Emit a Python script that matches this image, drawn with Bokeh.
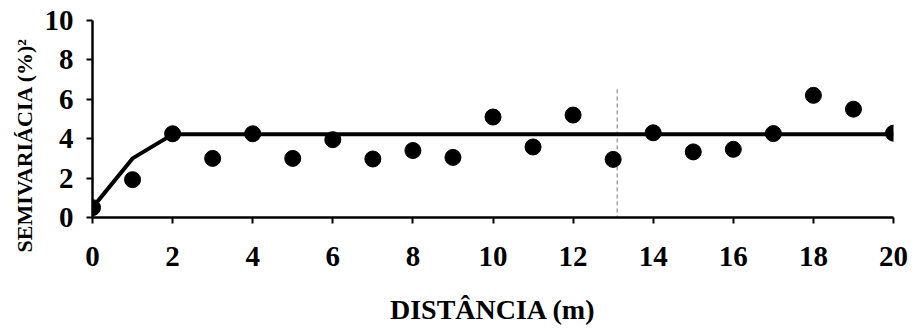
from bokeh.plotting import figure
from bokeh.models import FixedTicker, ColumnDataSource, Title
from bokeh.embed import file_html
from bokeh.resources import INLINE

# data
dist = [0, 1, 2, 3, 4, 5, 6, 7, 8, 9, 10, 11, 12, 13, 14, 15, 16, 17, 18, 19, 20]
semivar = [0.5, 1.92, 4.25, 3.0, 4.25, 3.0, 3.95, 2.97, 3.4, 3.05, 5.1, 3.58,
           5.2, 2.95, 4.3, 3.33, 3.46, 4.26, 6.2, 5.5, 4.28]
model_x = [0, 1, 2, 20]
model_y = [0.5, 3.0, 4.22, 4.22]
x_ticks = [0, 2, 4, 6, 8, 10, 12, 14, 16, 18, 20]
y_ticks = [0, 2, 4, 6, 8, 10]
artifact_x = [13.1, 13.1]
artifact_y = [6.5, 0]

FONT = "Liberation Serif"

p = figure(frame_width=801, frame_height=197, x_range=(0, 20), y_range=(0, 10),
           output_backend="svg", toolbar_location=None,
           min_border_left=92, min_border_right=23, min_border_top=20, min_border_bottom=112)
p.outline_line_color = None
p.xgrid.visible = False
p.ygrid.visible = False
p.background_fill_color = "white"
p.border_fill_color = "white"

for ax in (p.xaxis[0], p.yaxis[0]):
    ax.axis_line_width = 2.5
    ax.axis_line_color = "black"
    ax.major_tick_line_width = 2
    ax.major_tick_line_color = "black"
    ax.major_tick_out = 6
    ax.major_tick_in = 0
    ax.minor_tick_line_color = None
    ax.major_label_text_font = FONT
    ax.major_label_text_font_style = "bold"
    ax.major_label_text_font_size = "29px"
    ax.major_label_text_color = "black"

p.xaxis.ticker = FixedTicker(ticks=x_ticks)
p.yaxis.ticker = FixedTicker(ticks=y_ticks)
p.xaxis.major_label_standoff = 23
p.yaxis.major_label_standoff = 13

p.xaxis.axis_label = "DISTÂNCIA (m)"
p.xaxis.axis_label_text_font = FONT
p.xaxis.axis_label_text_font_style = "bold"
p.xaxis.axis_label_text_font_size = "28px"
p.xaxis.axis_label_text_color = "black"
p.xaxis.axis_label_standoff = 25

# y title as a side-panel title, shifted down like in the reference
ytitle = Title(text="SEMIVARIÁCIA (%)²", align="left", offset=-35,
               text_font=FONT, text_font_style="bold", text_font_size="22px",
               text_color="black", standoff=10)
p.add_layout(ytitle, "left")

# faint scan artifact (dashed vertical line)
p.line(artifact_x, artifact_y, line_color="#777777", line_width=1, line_dash="4 3")

src = ColumnDataSource(dict(x=dist, y=semivar))
p.line(model_x, model_y, line_color="black", line_width=4)
p.scatter("x", "y", source=src, size=16, fill_color="black", line_color="black")

open("out.html", "w").write(file_html(p, INLINE))
